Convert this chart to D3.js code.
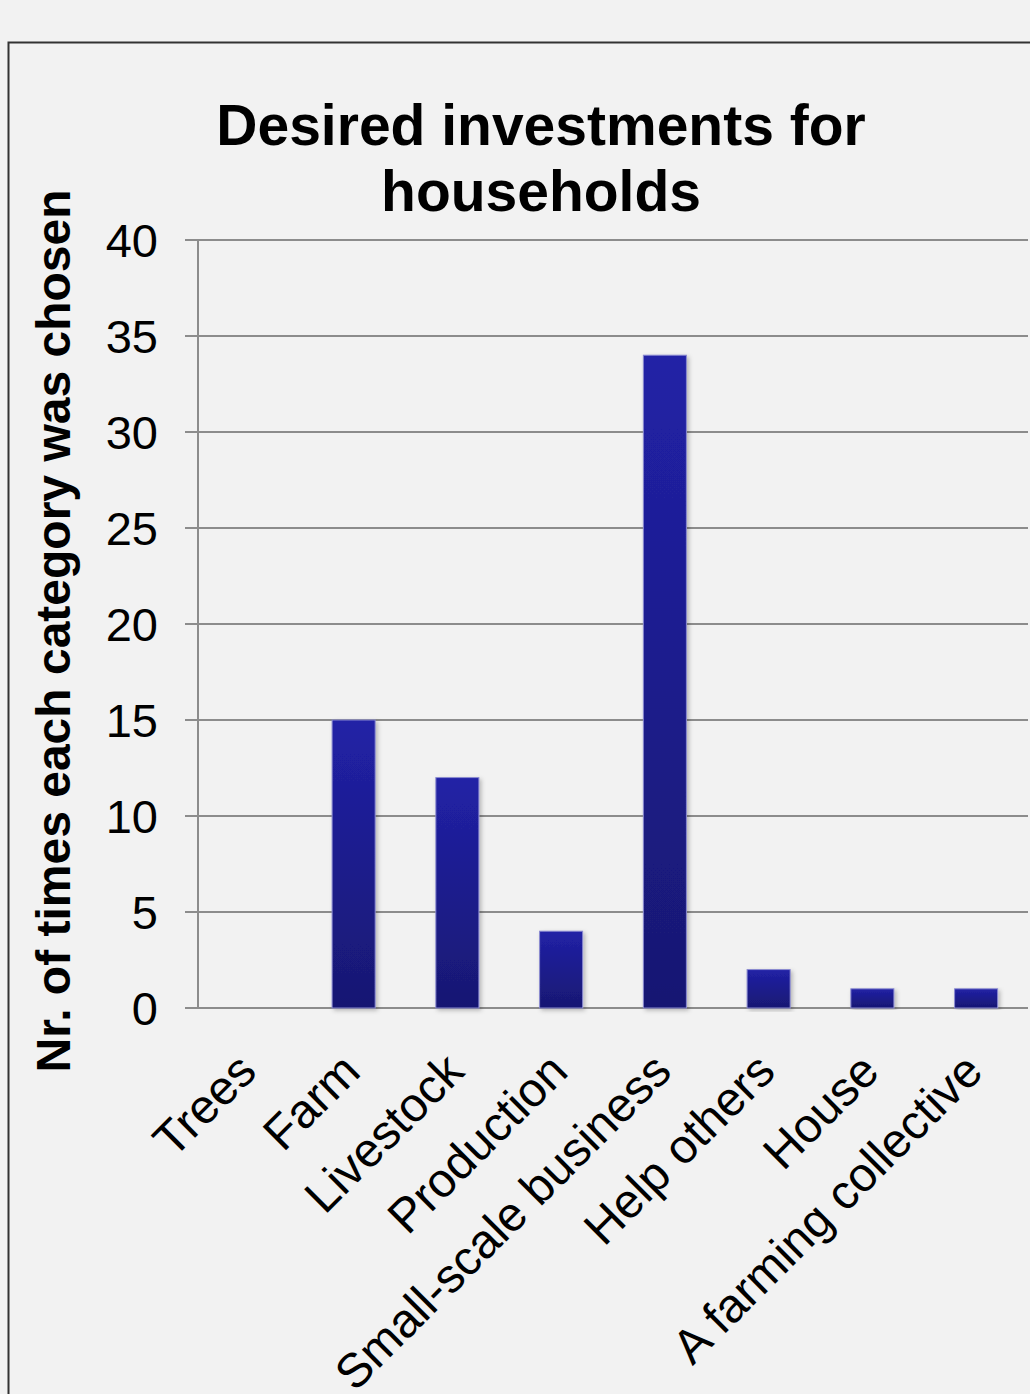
<!DOCTYPE html>
<html><head><meta charset="utf-8">
<script src="https://cdn.jsdelivr.net/npm/d3@7"></script>
<style>
html,body{margin:0;padding:0;background:#f2f2f2;}
svg{display:block;}
</style></head>
<body>
<script>
const categories = ["Trees","Farm","Livestock","Production","Small-scale business","Help others","House","A farming collective"];
const values = [0,15,12,4,34,2,1,1];
const yTicks = [0,5,10,15,20,25,30,35,40];
const titleLines = ["Desired investments for","households"];
const yTitle = "Nr. of times each category was chosen";

(function(){
const W=1030,H=1394;
const svg=d3.select("body").append("svg").attr("width",W).attr("height",H);
svg.append("rect").attr("width",W).attr("height",H).attr("fill","#f2f2f2");

const defs=svg.append("defs");
const grad=defs.append("linearGradient").attr("id","barGrad").attr("x1",0).attr("y1",0).attr("x2",0).attr("y2",1);
grad.append("stop").attr("offset","0%").attr("stop-color","#2121a6");
grad.append("stop").attr("offset","100%").attr("stop-color","#181872");
const filt=defs.append("filter").attr("id","shadow").attr("x","-20%").attr("y","-5%").attr("width","140%").attr("height","115%");
filt.append("feDropShadow").attr("dx",2).attr("dy",2).attr("stdDeviation",2).attr("flood-color","#000").attr("flood-opacity",0.25);

svg.append("path").attr("d","M8.5,1394 L8.5,42.5 L1030,42.5").attr("fill","none").attr("stroke","#333").attr("stroke-width",2);

const pLeft=198,pRight=1028,pTop=240,pBottom=1008;
const x=d3.scaleBand().domain(categories).range([pLeft,pRight]).paddingInner(0.585).paddingOuter(0.2925);
const y=d3.scaleLinear().domain([0,40]).range([pBottom,pTop]);

svg.append("g").selectAll("line").data(yTicks).join("line")
  .attr("x1",pLeft-13).attr("x2",pRight).attr("y1",d=>y(d)).attr("y2",d=>y(d))
  .attr("stroke","#8c8c8c").attr("stroke-width",2);
svg.append("line").attr("x1",pLeft).attr("x2",pLeft).attr("y1",pTop).attr("y2",pBottom).attr("stroke","#8c8c8c").attr("stroke-width",2);

svg.append("g").selectAll("text").data(yTicks).join("text")
  .attr("x",158).attr("y",d=>y(d)).attr("dy","0.36em").attr("text-anchor","end")
  .attr("font-family","Liberation Sans, Arial, sans-serif").attr("font-size",47).attr("fill","#000")
  .text(d=>d);

svg.append("g").selectAll("rect").data(values.map((v,i)=>({c:categories[i],v})).filter(d=>d.v>0)).join("rect")
  .attr("x",d=>x(d.c)).attr("width",x.bandwidth())
  .attr("y",d=>y(d.v)).attr("height",d=>y(0)-y(d.v))
  .attr("fill","url(#barGrad)").attr("stroke","#8a8ad0").attr("stroke-width",1)
  .attr("filter","url(#shadow)");

svg.append("g").selectAll("text").data(categories).join("text")
  .attr("transform",d=>`translate(${x(d)+x.bandwidth()/2-3},${1062}) rotate(-45)`)
  .attr("text-anchor","end").attr("dy","0.35em")
  .attr("font-family","Liberation Sans, Arial, sans-serif").attr("font-size",48).attr("fill","#000")
  .text(d=>d);

svg.append("g").selectAll("text").data(titleLines).join("text")
  .attr("x",541).attr("y",(d,i)=>145+i*66).attr("text-anchor","middle")
  .attr("font-family","Liberation Sans, Arial, sans-serif").attr("font-weight","bold").attr("font-size",57).attr("fill","#000")
  .text(d=>d);

svg.append("text").attr("transform","translate(70,631) rotate(-90)").attr("text-anchor","middle")
  .attr("font-family","Liberation Sans, Arial, sans-serif").attr("font-weight","bold").attr("font-size",48).attr("fill","#000")
  .text(yTitle);
})();
</script>
</body></html>
